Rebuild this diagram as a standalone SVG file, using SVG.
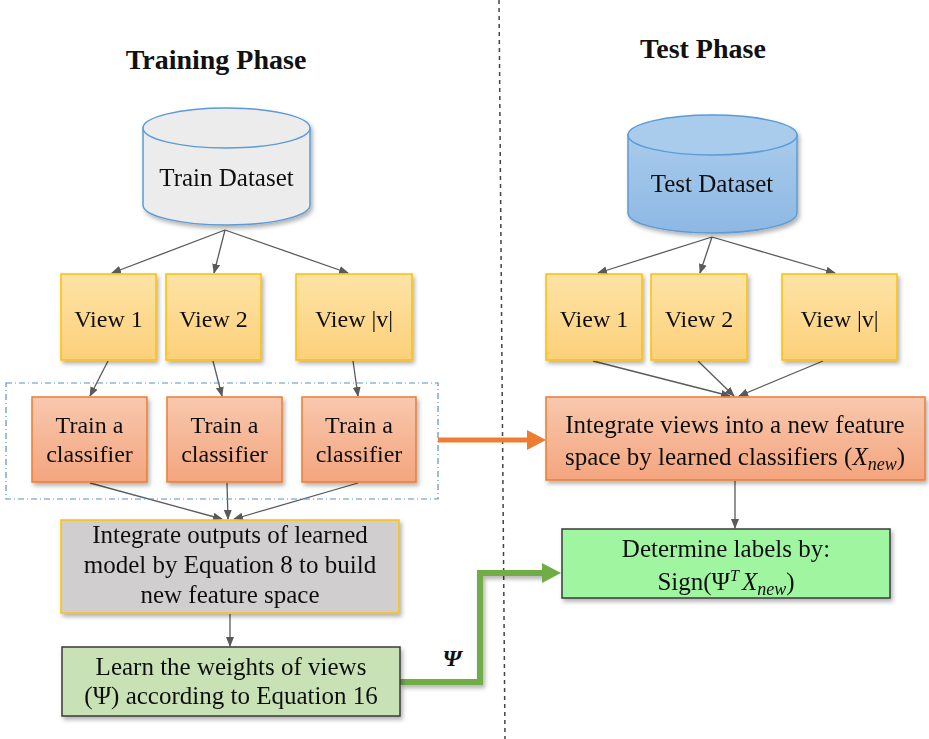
<svg xmlns="http://www.w3.org/2000/svg" width="929" height="739" viewBox="0 0 929 739">
  <defs>
    <linearGradient id="gView" x1="0" y1="0" x2="0" y2="1">
      <stop offset="0" stop-color="#fee3a6"/>
      <stop offset="1" stop-color="#fcd07a"/>
    </linearGradient>
    <linearGradient id="gClf" x1="0" y1="0" x2="0" y2="1">
      <stop offset="0" stop-color="#f8c8ae"/>
      <stop offset="1" stop-color="#f4a57e"/>
    </linearGradient>
    <linearGradient id="gTest" x1="0" y1="0" x2="0" y2="1">
      <stop offset="0" stop-color="#a9cbec"/>
      <stop offset="1" stop-color="#8db8e3"/>
    </linearGradient>
    <filter id="shadow" x="-10%" y="-10%" width="125%" height="130%">
      <feDropShadow dx="2" dy="3" stdDeviation="2" flood-color="#000" flood-opacity="0.3"/>
    </filter>
    <marker id="arr" markerWidth="10" markerHeight="10" refX="9" refY="5" orient="auto" markerUnits="userSpaceOnUse">
      <path d="M0,1 L10,5 L0,9 Z" fill="#5a5a5a"/>
    </marker>
  </defs>
  <style>
    text { font-family: "Liberation Serif", "Times New Roman", serif; fill: #111; }
    .title { font-size: 28px; font-weight: bold; text-anchor: middle; }
    .lbl { font-size: 24px; text-anchor: middle; }
    .lbl2 { font-size: 25px; text-anchor: middle; }
    .view { fill: url(#gView); stroke: #ffc000; stroke-width: 1.5; }
    .clf { fill: url(#gClf); stroke: #ed7d31; stroke-width: 1.5; }
    .conn { stroke: #5a5a5a; stroke-width: 1.3; fill: none; }
    .math { font-style: italic; }
  </style>

  <!-- phase separator -->
  <line x1="499" y1="0" x2="505" y2="739" stroke="#444" stroke-width="1.5" stroke-dasharray="4 4"/>

  <!-- headings -->
  <text class="title" x="216" y="69">Training Phase</text>
  <text class="title" x="703" y="58">Test Phase</text>

  <!-- connectors -->
  <g id="connectors">
    <line class="conn" x1="225" y1="230" x2="112" y2="273" marker-end="url(#arr)"/>
    <line class="conn" x1="225" y1="230" x2="214" y2="273" marker-end="url(#arr)"/>
    <line class="conn" x1="225" y1="230" x2="348" y2="273" marker-end="url(#arr)"/>

    <line class="conn" x1="712" y1="237" x2="598" y2="273" marker-end="url(#arr)"/>
    <line class="conn" x1="712" y1="237" x2="700" y2="273" marker-end="url(#arr)"/>
    <line class="conn" x1="712" y1="237" x2="835" y2="273" marker-end="url(#arr)"/>

    <line class="conn" x1="108" y1="361" x2="90" y2="396" marker-end="url(#arr)"/>
    <line class="conn" x1="213" y1="361" x2="222" y2="396" marker-end="url(#arr)"/>
    <line class="conn" x1="353" y1="361" x2="358" y2="396" marker-end="url(#arr)"/>

    <line class="conn" x1="90" y1="483" x2="222" y2="519" marker-end="url(#arr)"/>
    <line class="conn" x1="227" y1="483" x2="228" y2="519" marker-end="url(#arr)"/>
    <line class="conn" x1="358" y1="483" x2="234" y2="519" marker-end="url(#arr)"/>

    <line class="conn" x1="593" y1="361" x2="730" y2="396" marker-end="url(#arr)"/>
    <line class="conn" x1="698" y1="361" x2="734" y2="396" marker-end="url(#arr)"/>
    <line class="conn" x1="823" y1="361" x2="739" y2="396" marker-end="url(#arr)"/>

    <line class="conn" x1="230" y1="614" x2="230" y2="646" marker-end="url(#arr)"/>
    <line class="conn" x1="735" y1="481" x2="735" y2="528" marker-end="url(#arr)"/>

    <!-- learned classifiers carried over to the test phase -->
    <line x1="438" y1="440" x2="529" y2="440" stroke="#ed7d31" stroke-width="5"/>
    <polygon points="527,430 546,440 527,450" fill="#ed7d31"/>

    <!-- learned weights carried over to the test phase -->
    <path d="M400,682 H480 V573 H544" fill="none" stroke="#70ad47" stroke-width="6" filter="url(#shadow)"/>
    <polygon points="542,563 561,573 542,583" fill="#70ad47"/>
    <text x="452" y="666" style="font-size:24px;font-weight:bold;font-style:italic;text-anchor:middle">Ψ</text>
  </g>

  <!-- grouping frame around the classifiers -->
  <rect x="6" y="383" width="432" height="116" fill="none" stroke="#5b8fc7" stroke-width="1.2" stroke-dasharray="6 3 1 3"/>

  <g id="train-dataset" filter="url(#shadow)">
    <path d="M143,128 L143,205 A83.5,20 0 0 0 310,205 L310,128 Z" fill="#ececec" stroke="#5b9bd5" stroke-width="1.5"/>
    <ellipse cx="226.5" cy="128" rx="83.5" ry="20" fill="#ececec" stroke="#5b9bd5" stroke-width="1.5"/>
    <text class="lbl2" x="226.5" y="186">Train Dataset</text>
  </g>

  <g id="test-dataset" filter="url(#shadow)">
    <path d="M628,135 L628,213 A84.5,20 0 0 0 797,213 L797,135 Z" fill="url(#gTest)" stroke="#5b9bd5" stroke-width="1.5"/>
    <ellipse cx="712.5" cy="135" rx="84.5" ry="20" fill="#a9cbec" stroke="#5b9bd5" stroke-width="1.5"/>
    <text class="lbl2" x="712" y="192">Test Dataset</text>
  </g>

  <g id="train-view-1" filter="url(#shadow)">
    <rect class="view" x="61" y="274" width="95" height="86"/>
    <text class="lbl" x="108.5" y="327">View 1</text>
  </g>
  <g id="train-view-2" filter="url(#shadow)">
    <rect class="view" x="166" y="274" width="95" height="86"/>
    <text class="lbl" x="213.5" y="327">View 2</text>
  </g>
  <g id="train-view-v" filter="url(#shadow)">
    <rect class="view" x="296" y="274" width="116" height="86"/>
    <text class="lbl" x="354" y="327">View |v|</text>
  </g>

  <g id="test-view-1" filter="url(#shadow)">
    <rect class="view" x="546" y="274" width="96" height="86"/>
    <text class="lbl" x="594" y="327">View 1</text>
  </g>
  <g id="test-view-2" filter="url(#shadow)">
    <rect class="view" x="651" y="274" width="96" height="86"/>
    <text class="lbl" x="699" y="327">View 2</text>
  </g>
  <g id="test-view-v" filter="url(#shadow)">
    <rect class="view" x="782" y="274" width="115" height="86"/>
    <text class="lbl" x="839.5" y="327">View |v|</text>
  </g>

  <g id="classifier-1" filter="url(#shadow)">
    <rect class="clf" x="32" y="397" width="115" height="85"/>
    <text class="lbl" x="89.5" y="433">Train a</text>
    <text class="lbl" x="89.5" y="462">classifier</text>
  </g>
  <g id="classifier-2" filter="url(#shadow)">
    <rect class="clf" x="167" y="397" width="115" height="85"/>
    <text class="lbl" x="224.5" y="433">Train a</text>
    <text class="lbl" x="224.5" y="462">classifier</text>
  </g>
  <g id="classifier-v" filter="url(#shadow)">
    <rect class="clf" x="302" y="397" width="114" height="85"/>
    <text class="lbl" x="359" y="433">Train a</text>
    <text class="lbl" x="359" y="462">classifier</text>
  </g>

  <g id="integrate-outputs" filter="url(#shadow)">
    <rect x="61" y="520" width="338" height="93" fill="#d0cece" stroke="#ffc000" stroke-width="1.5"/>
    <text class="lbl2" x="230" y="543">Integrate outputs of learned</text>
    <text class="lbl2" x="230" y="573">model by Equation 8 to build</text>
    <text class="lbl2" x="230" y="603">new feature space</text>
  </g>

  <g id="learn-weights" filter="url(#shadow)">
    <rect x="62" y="647" width="338" height="69" fill="#c8e2b6" stroke="#3a3a3a" stroke-width="1.5"/>
    <text class="lbl2" x="231" y="675">Learn the weights  of views</text>
    <text class="lbl2" x="231" y="704">(Ψ) according to Equation 16</text>
  </g>

  <g id="integrate-views" filter="url(#shadow)">
    <rect class="clf" x="546" y="397" width="379" height="83"/>
    <text class="lbl2" x="735" y="433">Integrate views into a new feature</text>
    <text class="lbl2" x="735" y="465">space by learned classifiers (<tspan class="math">X</tspan><tspan class="math" style="font-size:18px" dy="5">new</tspan><tspan dy="-5">)</tspan></text>
  </g>

  <g id="determine-labels" filter="url(#shadow)">
    <rect x="562" y="529" width="328" height="69" fill="#a0f5a0" stroke="#3a3a3a" stroke-width="1.5"/>
    <text class="lbl2" x="726" y="557">Determine labels by:</text>
    <text class="lbl2" x="726" y="590">Sign(Ψ<tspan class="math" style="font-size:16px" dy="-9">T</tspan><tspan class="math" dx="3" dy="9">X</tspan><tspan class="math" style="font-size:18px" dy="5">new</tspan><tspan dy="-5">)</tspan></text>
  </g>
</svg>
